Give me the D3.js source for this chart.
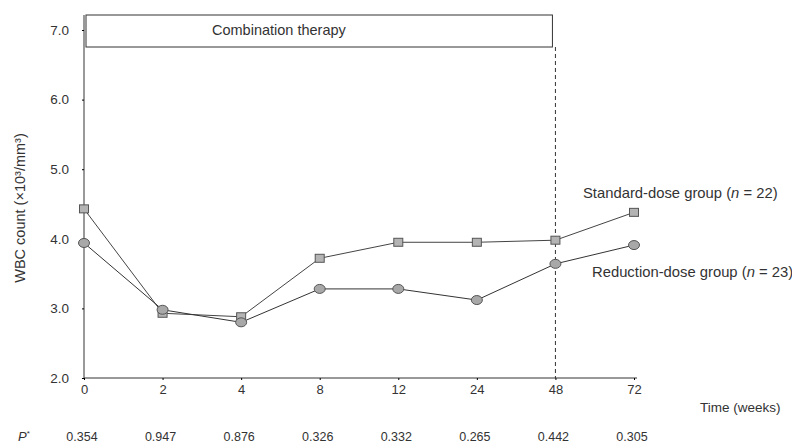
<!DOCTYPE html>
<html>
<head>
<meta charset="utf-8">
<script src="https://cdn.jsdelivr.net/npm/d3@7"></script>
<style>
  body { margin: 0; background: #fff; }
  text { font-family: "Liberation Sans", Arial, sans-serif; fill: #333; }
</style>
</head>
<body>
<svg id="chart" width="792" height="443"></svg>
<script>
let weeks = ['0', '2', '4', '8', '12', '24', '48', '72']
let standardDose = [4.43, 2.93, 2.88, 3.72, 3.95, 3.95, 3.98, 4.38]
let reductionDose = [3.94, 2.98, 2.80, 3.28, 3.28, 3.12, 3.64, 3.91]
let pValues = ['0.354', '0.947', '0.876', '0.326', '0.332', '0.265', '0.442', '0.305']
let yTicks = [2, 3, 4, 5, 6, 7]

function main() {
    let svg = d3.select('#chart')
    let x = d3.scalePoint().domain(weeks).range([84, 634]),
        y = d3.scaleLinear().domain([2, 7]).range([378, 30])

    // small ticks like the original
    let xAxis = svg.append('g')
        .attr('transform', 'translate(0,' + y(2) + ')')
        .call(d3.axisBottom(x).tickSize(2).tickPadding(5))
    xAxis.select('.domain').attr('d', 'M' + x('0') + ',0H' + (x('72') + 3)).attr('stroke', '#333')
    xAxis.selectAll('text').attr('font-size', 13).attr('fill', '#444')

    let yAxis = svg.append('g')
        .attr('transform', 'translate(' + x('0') + ',0)')
        .call(d3.axisLeft(y).tickValues(yTicks).tickFormat(d3.format('.1f')).tickSize(2).tickPadding(13))
    yAxis.select('.domain').attr('d', 'M0,' + y(2) + 'V15').attr('stroke', '#333')
    yAxis.selectAll('text').attr('font-size', 13.5).attr('fill', '#444')

    // combination therapy box
    svg.append('rect')
        .attr('x', x('0') + 2).attr('y', 15)
        .attr('width', x('48') - 3 - x('0') - 2).attr('height', 32)
        .attr('fill', 'none').attr('stroke', '#333')
    svg.append('text')
        .attr('x', 212).attr('y', 35)
        .attr('font-size', 14.5)
        .text('Combination therapy')

    // dashed line at week 48
    svg.append('line')
        .attr('x1', x('48')).attr('x2', x('48'))
        .attr('y1', 47).attr('y2', y(2))
        .attr('stroke', '#333').attr('stroke-dasharray', '4,3')

    let line = d3.line().x((d, i) => x(weeks[i])).y(d => y(d))

    svg.append('path').datum(standardDose)
        .attr('d', line).attr('fill', 'none').attr('stroke', '#444').attr('stroke-width', 1)
    svg.append('path').datum(reductionDose)
        .attr('d', line).attr('fill', 'none').attr('stroke', '#333').attr('stroke-width', 1)

    svg.selectAll('.sq').data(standardDose).enter().append('rect')
        .attr('class', 'sq')
        .attr('x', (d, i) => x(weeks[i]) - 4.5).attr('y', d => y(d) - 4)
        .attr('width', 9).attr('height', 8)
        .attr('fill', '#b4b4b4').attr('stroke', '#555')

    svg.selectAll('.ci').data(reductionDose).enter().append('ellipse')
        .attr('class', 'ci')
        .attr('cx', (d, i) => x(weeks[i])).attr('cy', d => y(d))
        .attr('rx', 5.5).attr('ry', 4.5)
        .attr('fill', '#a8a8a8').attr('stroke', '#555')

    // series labels
    let s = svg.append('text').attr('x', 583).attr('y', 198).attr('font-size', 14.8)
    s.append('tspan').text('Standard-dose group (')
    s.append('tspan').attr('font-style', 'italic').text('n')
    s.append('tspan').text(' = 22)')

    let r = svg.append('text').attr('x', 592).attr('y', 277).attr('font-size', 14.8)
    r.append('tspan').text('Reduction-dose group (')
    r.append('tspan').attr('font-style', 'italic').text('n')
    r.append('tspan').text(' = 23)')

    // y label
    svg.append('text')
        .attr('transform', 'translate(25,208) rotate(-90)')
        .attr('text-anchor', 'middle')
        .attr('font-size', 14.5)
        .text('WBC count (×10³/mm³)')

    svg.append('text')
        .attr('x', 700).attr('y', 412)
        .attr('font-size', 13.5)
        .text('Time (weeks)')

    // P values row
    let p = svg.append('text').attr('x', 18).attr('y', 441).attr('font-size', 13)
    p.append('tspan').attr('font-style', 'italic').text('P')
    p.append('tspan').attr('font-size', 8).attr('dy', -5).text('*')

    svg.selectAll('.pv').data(pValues).enter().append('text')
        .attr('class', 'pv')
        .attr('x', (d, i) => x(weeks[i]) - 2)
        .attr('y', 441)
        .attr('text-anchor', 'middle')
        .attr('font-size', 12.5)
        .attr('fill', '#444')
        .text(d => d)
}

main()
</script>
</body>
</html>
